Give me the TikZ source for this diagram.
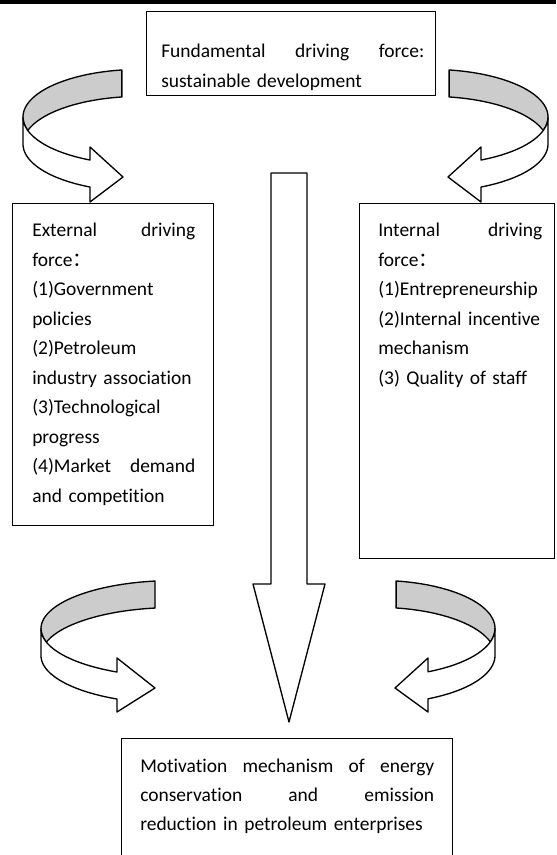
\documentclass[tikz,border=0pt]{standalone}
\usepackage{fontspec}
\setmainfont{Carlito}[RawFeature={-liga;-clig}]
\newfontfamily\cjk{Noto Sans CJK SC}
\begin{document}
\begin{tikzpicture}[x=0.75pt,y=-0.75pt,
  box/.style={draw, line width=1pt, inner sep=0pt, anchor=north west},
  txt/.style={anchor=base west, inner sep=0pt, align=left, text width=240pt,
    font=\fontsize{14.6pt}{22.1pt}\selectfont},
  band/.style={draw, line width=1pt, line join=round},
  backface/.style={band, fill=black!20},
  frontface/.style={band, fill=white}]
\useasboundingbox (0,0) rectangle (556,855);
\fill (0,0) rectangle (556,4);

% boxes
\node[box, minimum width=216.75pt, minimum height=63pt] (top) at (146,11) {};
\node[box, minimum width=150.75pt, minimum height=241.5pt] (ext) at (12,203) {};
\node[box, minimum width=146.25pt, minimum height=266.25pt] (int) at (359,203) {};
\node[box, minimum width=248.25pt, minimum height=100pt] (mot) at (121,738) {};

% texts
\node[txt] (toptxt) at (161,58)
  {\makebox[197.25pt][l]{Fundamental\hfill driving\hfill force:}\\sustainable development};
\node[txt] (exttxt) at (32,237)
  {\makebox[122.25pt][l]{External\hfill driving}\\force{\cjk ：}\\(1)Government\\policies\\(2)Petroleum\\industry association\\(3)Technological\\progress\\\makebox[122.25pt][l]{(4)Market\hfill demand}\\and competition};
\node[txt] (inttxt) at (378,237)
  {\makebox[123pt][l]{Internal\hfill driving}\\force{\cjk ：}\\(1)Entrepreneurship\\(2)Internal incentive\\mechanism\\(3) Quality of staff};
\node[txt] (mottxt) at (140,772)
  {\makebox[220.5pt][l]{Motivation\hfill mechanism\hfill of\hfill energy}\\\makebox[220.5pt][l]{conservation\hfill and\hfill emission}\\reduction in petroleum enterprises};

% central block arrow
\draw[band, fill=white] (271,173) -- (307,173) -- (307,584) -- (325,584) -- (289,722)
  -- (253,584) -- (271,584) -- cycle;

% top-left ribbon arrow
\filldraw[backface] plot[domain=163.5:261.1, samples=50] ({140+117*cos(\x)},{117+47.6*sin(\x)})
  -- plot[domain=261.1:196.5, samples=50] ({140+117*cos(\x)},{144+47.6*sin(\x)}) -- cycle;
\filldraw[frontface] plot[domain=180:115.3, samples=50] ({140+117*cos(\x)},{117+47.6*sin(\x)})
  -- (90,147) -- (123,177) -- (90,202)
  -- plot[domain=115.3:180, samples=50] ({140+117*cos(\x)},{144+47.6*sin(\x)}) -- cycle;

% top-right ribbon arrow
\filldraw[backface] plot[domain=163.5:261.1, samples=50] ({431-117*cos(\x)},{117+47.6*sin(\x)})
  -- plot[domain=261.1:196.5, samples=50] ({431-117*cos(\x)},{144+47.6*sin(\x)}) -- cycle;
\filldraw[frontface] plot[domain=180:115.3, samples=50] ({431-117*cos(\x)},{117+47.6*sin(\x)})
  -- (481,147) -- (448,177) -- (481,202)
  -- plot[domain=115.3:180, samples=50] ({431-117*cos(\x)},{144+47.6*sin(\x)}) -- cycle;

% bottom-left ribbon arrow
\filldraw[backface] plot[domain=163.7:261.8, samples=50] ({174+133*cos(\x)},{628.6+48.06*sin(\x)})
  -- plot[domain=261.8:196.3, samples=50] ({174+133*cos(\x)},{655.6+48.06*sin(\x)}) -- cycle;
\filldraw[frontface] plot[domain=180:115.4, samples=50] ({174+133*cos(\x)},{628.6+48.06*sin(\x)})
  -- (117,658) -- (155,688) -- (117,712)
  -- plot[domain=115.4:180, samples=50] ({174+133*cos(\x)},{655.6+48.06*sin(\x)}) -- cycle;

% bottom-right ribbon arrow
\filldraw[backface] plot[domain=163.7:261.1, samples=50] ({378-117*cos(\x)},{628.4+48*sin(\x)})
  -- plot[domain=261.1:196.3, samples=50] ({378-117*cos(\x)},{655.4+48*sin(\x)}) -- cycle;
\filldraw[frontface] plot[domain=180:115.3, samples=50] ({378-117*cos(\x)},{628.4+48*sin(\x)})
  -- (428,658) -- (395,688) -- (428,712)
  -- plot[domain=115.3:180, samples=50] ({378-117*cos(\x)},{655.4+48*sin(\x)}) -- cycle;
\end{tikzpicture}
\end{document}
